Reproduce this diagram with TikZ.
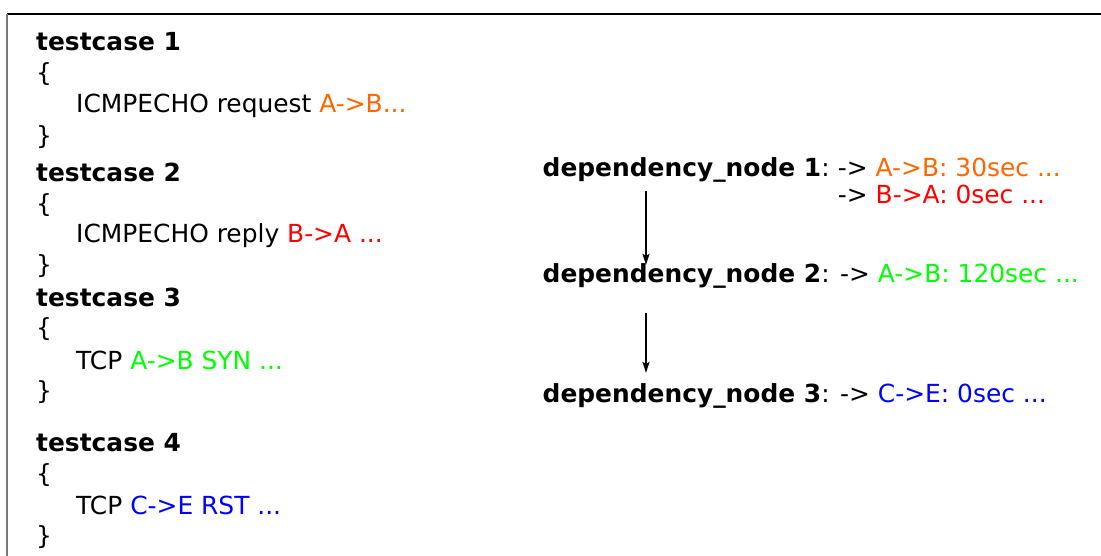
\documentclass[tikz,border=0pt]{standalone}
\usepackage{fontspec}
\setmainfont{DejaVu Sans}
\usetikzlibrary{arrows.meta}
\definecolor{corange}{RGB}{255,102,0}
\definecolor{cred}{RGB}{255,0,0}
\definecolor{cgreen}{RGB}{0,255,0}
\definecolor{cblue}{RGB}{0,0,255}
\definecolor{framegray}{RGB}{120,120,120}
\begin{document}
\begin{tikzpicture}[x=1pt,y=-1pt,
  txt/.style={anchor=base west,inner sep=0pt,font=\fontsize{24.9pt}{30pt}\selectfont},
  dep/.style={-{Stealth[length=11pt,width=7pt,inset=2pt]},line width=1.7pt}]
\useasboundingbox (0,0) rectangle (1101,556);

% frame (top and left edges)
\draw[line width=1.8pt] (7,14) -- (1101,14);
\draw[framegray,line width=2.4pt] (7,14) -- (7,556);

% test cases
\node[txt] (t1)  at (36,51)  {\textbf{testcase 1}};
\node[txt] (o1)  at (36,82)  {\{};
\node[txt] (b1)  at (76,113) {ICMPECHO request \textcolor{corange}{A->B...}};
\node[txt] (c1)  at (36,145) {\}};

\node[txt] (t2)  at (36,182) {\textbf{testcase 2}};
\node[txt] (o2)  at (36,213) {\{};
\node[txt] (b2)  at (76,243) {ICMPECHO reply \textcolor{cred}{B->A ...}};
\node[txt] (c2)  at (36,274) {\}};

\node[txt] (t3)  at (36,306) {\textbf{testcase 3}};
\node[txt] (o3)  at (36,336) {\{};
\node[txt] (b3)  at (76,369) {TCP \textcolor{cgreen}{A->B SYN ...}};
\node[txt] (c3)  at (36,399) {\}};

\node[txt] (t4)  at (36,451) {\textbf{testcase 4}};
\node[txt] (o4)  at (36,482) {\{};
\node[txt] (b4)  at (76,514) {TCP \textcolor{cblue}{C->E RST ...}};
\node[txt] (c4)  at (36,544) {\}};

% dependency chain
\node[txt] (d1) at (542.5,177) {\textbf{dependency\_node 1}:};
\node[txt] (d1a) at ([xshift=7.9pt]d1.base east) {-> \textcolor{corange}{A->B: 30sec ...}};
\node[txt] (d1b) at ([yshift=-27pt]d1a.base west) {-> \textcolor{cred}{B->A: 0sec ...}};

\node[txt] (d2) at (542.5,283) {\textbf{dependency\_node 2}: -> \textcolor{cgreen}{A->B: 120sec ...}};
\node[txt] (d3) at (542.5,402) {\textbf{dependency\_node 3}: -> \textcolor{cblue}{C->E: 0sec ...}};

\coordinate (ax) at (646,0);
\draw[dep] ([yshift=-8pt]d1.south -| ax) -- ([yshift=-1pt]d2.north -| ax);
\draw[dep] ([yshift=-24pt]d2.south -| ax) -- ([yshift=10pt]d3.north -| ax);
\end{tikzpicture}
\end{document}
